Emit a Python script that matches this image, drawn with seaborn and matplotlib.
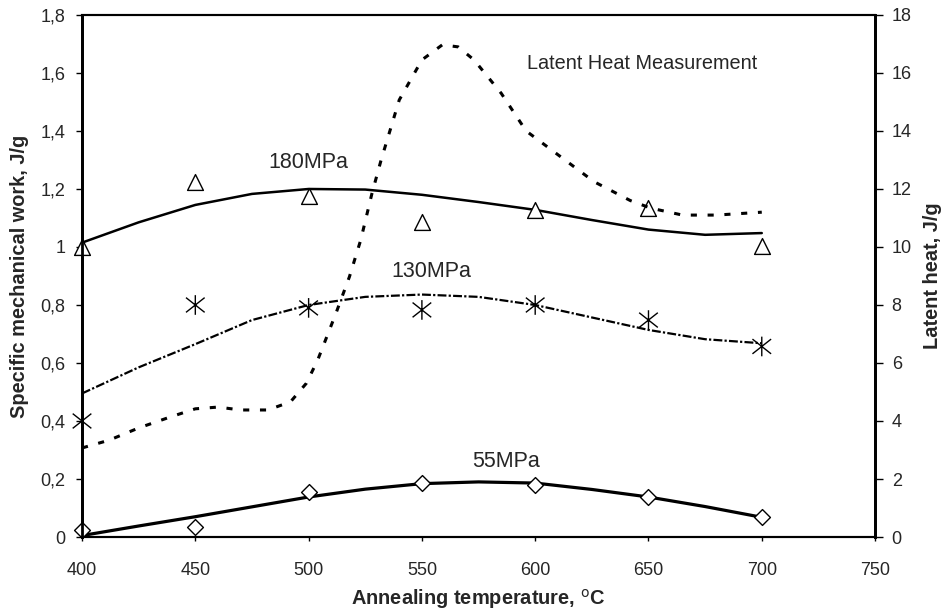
import matplotlib
matplotlib.use("Agg")
import matplotlib.pyplot as plt
from matplotlib.path import Path
from matplotlib.ticker import FuncFormatter, MultipleLocator
import pandas as pd
import seaborn as sns

# measured points
temps = [400, 450, 500, 550, 600, 650, 700]
work_180 = [1.00, 1.225, 1.176, 1.086, 1.126, 1.135, 1.003]
work_130 = [0.40, 0.80, 0.79, 0.783, 0.80, 0.748, 0.657]
work_55 = [0.024, 0.034, 0.155, 0.186, 0.180, 0.138, 0.069]

# trend lines
fit_temps = [400, 425, 450, 475, 500, 525, 550, 575, 600, 625, 650, 675, 700]
fit_180 = [1.015, 1.085, 1.145, 1.183, 1.200, 1.198, 1.180, 1.155, 1.128, 1.093, 1.060, 1.042, 1.048]
fit_130 = [0.495, 0.585, 0.665, 0.748, 0.800, 0.828, 0.836, 0.828, 0.800, 0.757, 0.714, 0.682, 0.668]
fit_55 = [0.005, 0.038, 0.070, 0.104, 0.138, 0.165, 0.184, 0.190, 0.186, 0.164, 0.138, 0.105, 0.068]

# latent heat curve (right axis)
heat_temps = [400, 412, 425, 439, 450, 460, 470, 482, 492, 499, 504, 508, 512, 518, 523,
              528, 532, 540, 550, 559, 566, 573, 585, 596, 608, 626, 642, 651, 665, 680, 700]
heat = [3.07, 3.34, 3.76, 4.14, 4.42, 4.48, 4.38, 4.38, 4.66, 5.3, 6.1, 6.9, 7.7, 8.97, 10.24,
        11.86, 13.0, 15.07, 16.45, 16.97, 16.9, 16.45, 15.3, 14.0, 13.3, 12.25, 11.6, 11.34, 11.1, 11.1, 11.2]

sns.set_theme(style="ticks")
plt.rcParams["font.family"] = ["Liberation Sans", "DejaVu Sans"]

fig = plt.figure(figsize=(9.45, 6.11), dpi=100)
ax = fig.add_axes([0.0868, 0.1211, 0.926 - 0.0868, 0.9755 - 0.1211])
ax2 = ax.twinx()

fits = pd.DataFrame({"T": fit_temps, "f180": fit_180, "f130": fit_130, "f55": fit_55})
pts = pd.DataFrame({"T": temps, "w180": work_180, "w130": work_130, "w55": work_55})
lh = pd.DataFrame({"T": heat_temps, "heat": heat})

# excel-style star: an X with a vertical bar through it
star = Path([(0, -1), (0, 1), (-0.95, -0.75), (0.95, 0.75), (-0.95, 0.75), (0.95, -0.75)],
            [Path.MOVETO, Path.LINETO, Path.MOVETO, Path.LINETO, Path.MOVETO, Path.LINETO])

sns.lineplot(data=fits, x="T", y="f180", ax=ax, color="black", lw=1.8)
sns.lineplot(data=fits, x="T", y="f130", ax=ax, color="black", lw=1.6)
ax.lines[-1].set_dashes([4, 1, 1, 1])
sns.lineplot(data=fits, x="T", y="f55", ax=ax, color="black", lw=2.3)

sns.scatterplot(data=pts, x="T", y="w180", ax=ax, marker="^", s=130, facecolor="white",
                edgecolor="black", linewidth=1.0, zorder=4, clip_on=False)
sns.scatterplot(data=pts, x="T", y="w130", ax=ax, marker=star, s=200, facecolor="none",
                edgecolor="black", linewidth=1.0, zorder=4, clip_on=False)
sns.scatterplot(data=pts, x="T", y="w55", ax=ax, marker="D", s=65, facecolor="white",
                edgecolor="black", linewidth=1.0, zorder=4, clip_on=False)

sns.lineplot(data=lh, x="T", y="heat", ax=ax2, color="black", lw=2.2)
ax2.lines[-1].set_dashes([2, 3.5])

ax.set_xlim(400, 750)
ax.set_ylim(0, 1.8)
ax2.set_ylim(0, 18)
ax.xaxis.set_major_locator(MultipleLocator(50))
ax.yaxis.set_major_locator(MultipleLocator(0.2))
ax2.yaxis.set_major_locator(MultipleLocator(2))


def comma(v, pos):
    if abs(v - round(v)) < 1e-9:
        return f"{int(round(v))}"
    return f"{v:.1f}".replace(".", ",")


ax.yaxis.set_major_formatter(FuncFormatter(comma))

ax.set_xlabel("Annealing temperature, $^{\\mathrm{o}}$C", fontsize=14.4, fontweight="bold", labelpad=6)
ax.set_ylabel("Specific mechanical work, J/g", fontsize=14.4, fontweight="bold", labelpad=8)
ax2.set_ylabel("Latent heat, J/g", fontsize=14.4, fontweight="bold", labelpad=8)

ax.tick_params(axis="y", labelsize=13, direction="out", length=4, width=1, color="black", pad=8)
ax.tick_params(axis="x", labelsize=13, direction="out", length=3, width=1, color="black", pad=15)
ax2.tick_params(axis="y", labelsize=13, direction="out", length=6, width=1, color="black", pad=6)

for a in (ax, ax2):
    for side, sp in a.spines.items():
        sp.set_color("black")
        sp.set_linewidth(2.0 if side in ("left", "right") else 1.5)

ax.text(500, 1.293, "180MPa", fontsize=15.5, ha="center", va="center")
ax.text(554, 0.917, "130MPa", fontsize=15.5, ha="center", va="center")
ax.text(587, 0.262, "55MPa", fontsize=15.5, ha="center", va="center")
ax.text(647, 1.634, "Latent Heat Measurement", fontsize=14.3, ha="center", va="center")

fig.savefig("out.png", dpi=100, facecolor="white")
